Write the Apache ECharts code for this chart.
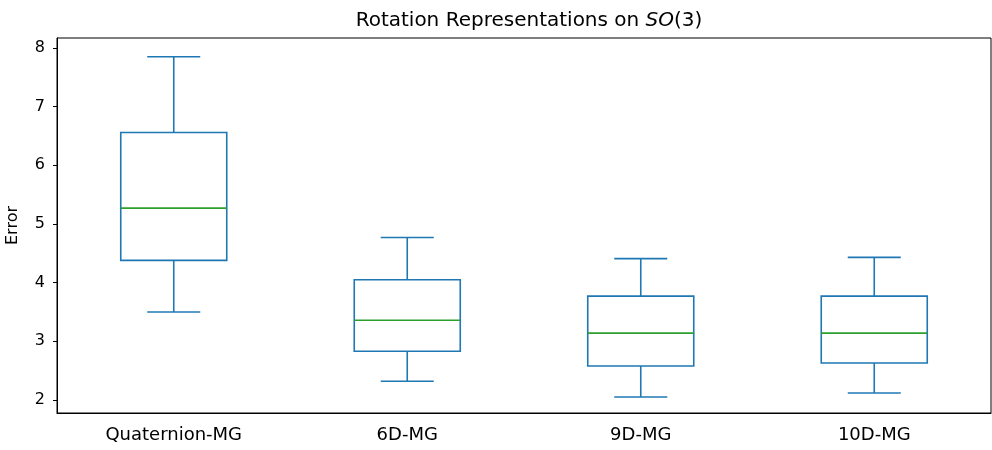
<!DOCTYPE html>
<html>
<head>
<meta charset="utf-8">
<script src="https://cdn.jsdelivr.net/npm/echarts@6/dist/echarts.min.js"></script>
<style>html,body{margin:0;padding:0;background:#fff;}#c{width:992px;height:450px;}</style>
</head>
<body>
<div id="c"></div>
<script>
const categories = ['Quaternion-MG', '6D-MG', '9D-MG', '10D-MG'];
const whiskerLow = [3.50, 2.32, 2.05, 2.12];
const q1Values = [4.38, 2.83, 2.58, 2.63];
const medians = [5.27, 3.36, 3.14, 3.14];
const q3Values = [6.56, 4.05, 3.77, 3.77];
const whiskerHigh = [7.85, 4.77, 4.41, 4.43];
const yTicks = [2, 3, 4, 5, 6, 7, 8];

const FONT = 'DejaVu Sans';
const BLUE = '#1f77b4';
const GREEN = '#2ca02c';

const data = categories.map((c, i) => [i, whiskerLow[i], q1Values[i], medians[i], q3Values[i], whiskerHigh[i]]);

function renderItem(params, api) {
  const x = api.value(0);
  const pLow = api.coord([x, api.value(1)]);
  const pQ1 = api.coord([x, api.value(2)]);
  const pMed = api.coord([x, api.value(3)]);
  const pQ3 = api.coord([x, api.value(4)]);
  const pHigh = api.coord([x, api.value(5)]);
  const band = api.size([1, 0])[0];
  const bw = band * 0.454;
  const cw = bw / 2;
  const cx = pMed[0];
  const ls = {stroke: BLUE, lineWidth: 1.6, fill: null};
  return {
    type: 'group',
    children: [
      {type: 'line', shape: {x1: cx, y1: pLow[1], x2: cx, y2: pQ1[1]}, style: ls},
      {type: 'line', shape: {x1: cx, y1: pQ3[1], x2: cx, y2: pHigh[1]}, style: ls},
      {type: 'line', shape: {x1: cx - cw / 2, y1: pLow[1], x2: cx + cw / 2, y2: pLow[1]}, style: ls},
      {type: 'line', shape: {x1: cx - cw / 2, y1: pHigh[1], x2: cx + cw / 2, y2: pHigh[1]}, style: ls},
      {type: 'rect', shape: {x: cx - bw / 2, y: pQ3[1], width: bw, height: pQ1[1] - pQ3[1]}, style: {stroke: BLUE, lineWidth: 1.6, fill: 'none'}},
      {type: 'line', shape: {x1: cx - bw / 2, y1: pMed[1], x2: cx + bw / 2, y2: pMed[1]}, style: {stroke: GREEN, lineWidth: 1.6}}
    ]
  };
}

const chart = echarts.init(document.getElementById('c'), null, {renderer: 'canvas'});
chart.setOption({
  animation: false,
  backgroundColor: '#fff',
  title: {
    text: 'Rotation Representations on {it|SO}(3)',
    left: 524, top: 6, textAlign: 'center',
    textStyle: {
      fontFamily: FONT, fontSize: 20, fontWeight: 'normal', color: '#000',
      rich: {it: {fontFamily: FONT, fontSize: 20, fontStyle: 'italic', color: '#000'}}
    }
  },
  grid: {left: 57, right: 1, top: 38, bottom: 37, show: true, borderColor: '#000', borderWidth: 1, backgroundColor: 'transparent', outerBoundsMode: 'none', containLabel: false},
  xAxis: {
    type: 'category',
    data: categories,
    boundaryGap: true,
    axisLine: {lineStyle: {color: '#000', width: 1}},
    axisTick: {alignWithLabel: true, length: 4, lineStyle: {color: '#000'}},
    axisLabel: {fontFamily: FONT, fontSize: 18, color: '#000', margin: 13}
  },
  yAxis: {
    type: 'value',
    min: 1.778, max: 8.17,
    name: 'Error', nameLocation: 'middle', nameGap: 36, nameRotate: 90,
    nameTextStyle: {fontFamily: FONT, fontSize: 16, color: '#000'},
    axisLine: {show: true, lineStyle: {color: '#000', width: 1}},
    axisTick: {show: true, length: 4, lineStyle: {color: '#000'}, customValues: yTicks},
    axisLabel: {fontFamily: FONT, fontSize: 16, color: '#000', margin: 12, customValues: yTicks},
    splitLine: {show: false}
  },
  series: [{
    type: 'custom',
    renderItem: renderItem,
    encode: {x: 0, y: [1, 2, 3, 4, 5]},
    data: data
  }]
});
</script>
</body>
</html>
